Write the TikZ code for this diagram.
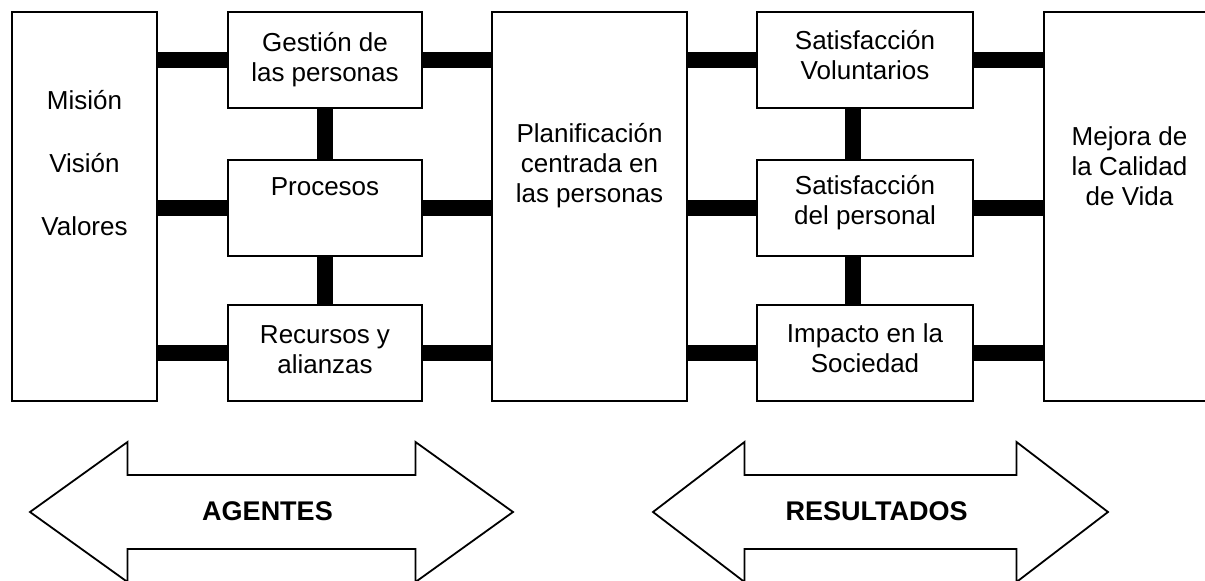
\documentclass[tikz,border=0pt]{standalone}
\usepackage{fontspec}
\setmainfont{Liberation Sans}
\tikzset{
    caja/.style args={#1 #2}{draw, line width=1.8pt, minimum width=#1, minimum height=#2, inner sep=0pt},
    barra/.style={line width=16pt},
    texto/.style={align=center, inner sep=0pt, font=\fontsize{26}{30}\selectfont},
    flecha/.style={line width=1.8pt, line join=miter}
}
\begin{document}
\begin{tikzpicture}[x=1pt,y=1pt]
    \useasboundingbox (0,0) rectangle (1205,581);
    \def \alto {389pt}
    \def \bajo {96pt}
    % cajas
    \node[caja={145pt \alto}] (mvv) at (84.5,374.5) {};
    \node[caja={194pt \bajo}] (gest) at (325,521) {};
    \node[caja={194pt \bajo}] (proc) at (325,373) {};
    \node[caja={194pt \bajo}] (recu) at (325,228) {};
    \node[caja={195pt \alto}] (plan) at (589.5,374.5) {};
    \node[caja={216pt \bajo}] (satv) at (865,521) {};
    \node[caja={216pt \bajo}] (satp) at (865,373) {};
    \node[caja={216pt \bajo}] (impa) at (865,228) {};
    \node[caja={171pt \alto}] (mejo) at (1129.5,374.5) {};
    % textos
    \node[texto] (mvvT) at ([yshift=43pt]mvv.center) {Misión\\[33pt]Visión\\[33pt]Valores};
    \node[texto] (gestT) at ([yshift=0pt]gest.center) {Gestión de\\las personas};
    \node[texto] (procT) at ([yshift=21pt]proc.center) {Procesos};
    \node[texto] (recuT) at ([yshift=3pt]recu.center) {Recursos y\\alianzas};
    \node[texto] (planT) at ([yshift=41pt]plan.center) {Planificación\\centrada en\\las personas};
    \node[texto] (satvT) at ([yshift=5pt]satv.center) {Satisfacción\\Voluntarios};
    \node[texto] (satpT) at ([yshift=5pt]satp.center) {Satisfacción\\del personal};
    \node[texto] (impaT) at ([yshift=5pt]impa.center) {Impacto en la\\Sociedad};
    \node[texto] (mejoT) at ([yshift=40pt]mejo.center) {Mejora de\\la Calidad\\de Vida};
    % barras
    \foreach \c in {gest,proc,recu}{
        \draw[barra] (\c.west) -- (\c.west -| mvv.east);
        \draw[barra] (\c.east) -- (\c.east -| plan.west);
    }
    \foreach \c in {satv,satp,impa}{
        \draw[barra] (\c.west) -- (\c.west -| plan.east);
        \draw[barra] (\c.east) -- (\c.east -| mejo.west);
    }
    \draw[barra] (gest.south) -- (proc.north);
    \draw[barra] (proc.south) -- (recu.north);
    \draw[barra] ([xshift=-12pt]satv.south) -- ([xshift=-12pt]satp.north);
    \draw[barra] ([xshift=-12pt]satp.south) -- ([xshift=-12pt]impa.north);
    % flechas dobles
    \foreach \cx/\L/\B/\nom in {271.5/241.5/144/AGENTES, 880.5/227.5/136/RESULTADOS}{
        \begin{scope}[shift={(\cx,69)}]
        \draw[flecha] (-\L,0) -- (-\B,70) -- (-\B,37) -- (\B,37) -- (\B,70) -- (\L,0)
            -- (\B,-70) -- (\B,-37) -- (-\B,-37) -- (-\B,-70) -- cycle;
        \node[texto, font=\fontsize{27}{30}\selectfont\bfseries] (\nom) at (-4,1) {\nom};
        \end{scope}
    }
\end{tikzpicture}
\end{document}
